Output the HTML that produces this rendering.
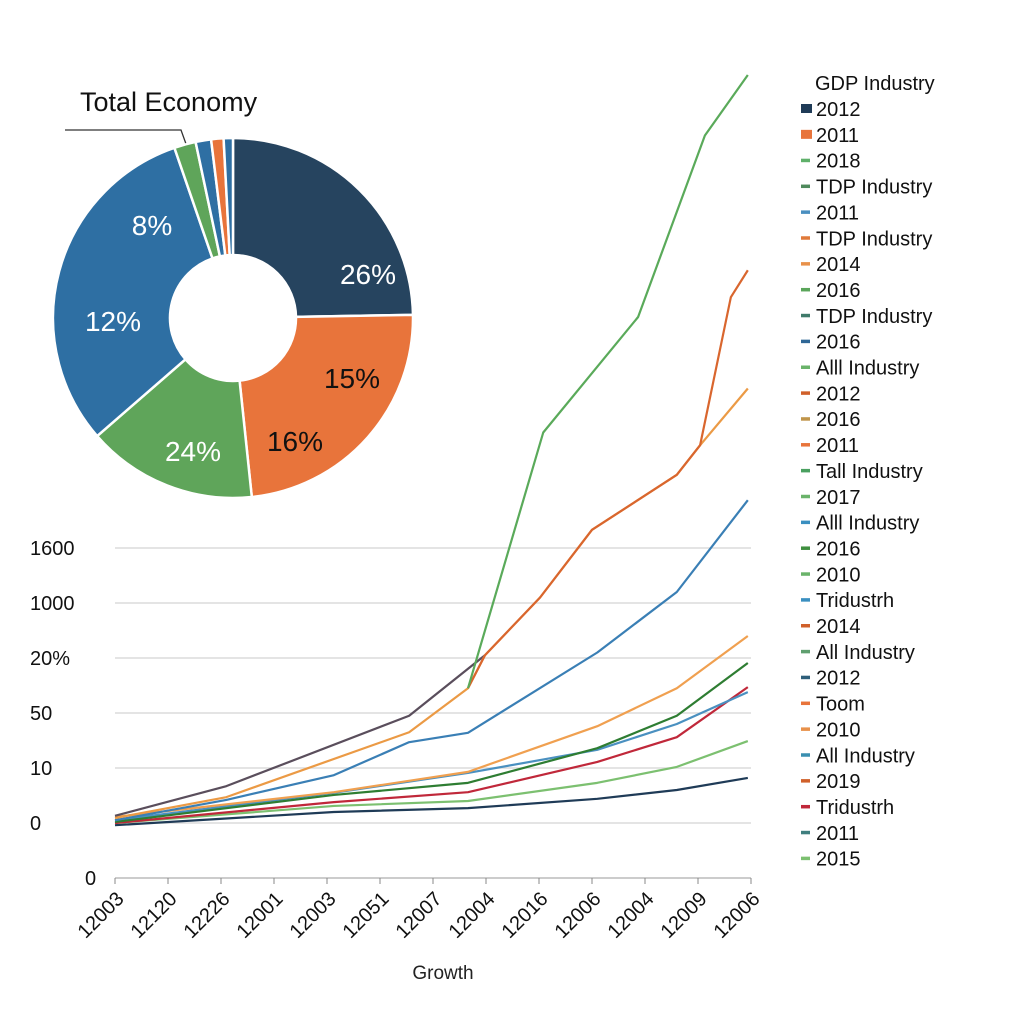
<!DOCTYPE html>
<html><head><meta charset="utf-8"><style>
body{margin:0;background:#fff;font-family:"Liberation Sans",sans-serif}
svg{display:block}
</style></head><body>
<svg id="chart" width="1024" height="1024" viewBox="0 0 1024 1024" xmlns="http://www.w3.org/2000/svg">
<text x="80" y="111" font-size="27" fill="#111">Total Economy</text>
<polyline points="65,130 181,130 190,155" fill="none" stroke="#333" stroke-width="1.3"/>
<g id="pie"></g>
<g id="line"></g>
<g id="legend"></g>
</svg>
<script>
const pieValues=[89,85,55,112,7,5,4,3];
const pieColors=["#26445f","#e8743b","#5fa55a","#2e6fa3","#5fa55a","#2e6fa3","#e8743b","#2e6fa3"];
const pieLabels=[["26%",368,284,"#fff"],["15%",352,388,"#111"],["16%",295,451,"#111"],["24%",193,461,"#fff"],["12%",113,331,"#fff"],["8%",152,235,"#fff"]];

const yTickLabels=["0","0","10","50","20%","1000","1600"];
const xTickLabels=["12003","12120","12226","12001","12003","12051","12007","12004","12016","12006","12004","12009","12006"];

const sNavyX=[0,4.13,6.66,9.1,10.6,11.94];
const sNavyV=[0.96,1.2,1.27,1.44,1.6,1.82];
const sLGreenX=[0,4.13,6.66,9.1,10.6,11.94];
const sLGreenV=[1,1.31,1.4,1.73,2.02,2.49];
const sRedX=[0,4.13,6.66,9.1,10.6,11.94];
const sRedV=[1,1.38,1.56,2.11,2.56,3.47];
const sDGreenX=[0,4.13,6.66,9.1,10.6,11.94];
const sDGreenV=[1.02,1.51,1.73,2.36,2.95,3.91];
const sBlueLowX=[0,4.13,6.66,9.1,10.6,11.94];
const sBlueLowV=[1.05,1.55,1.91,2.33,2.8,3.38];
const sLOrangeX=[0,4.13,6.66,9.1,10.6,11.94];
const sLOrangeV=[1.11,1.56,1.93,2.76,3.45,4.4];
const sBlueMidX=[0,2.1,4.13,5.55,6.66,9.1,10.6,11.94];
const sBlueMidV=[1.05,1.42,1.87,2.47,2.64,4.1,5.2,6.87];
const sTopOrangeX=[0,2.1,5.55,6.66,6.98,8.02,9,10.6,11.04,11.94];
const sTopOrangeV=[1.09,1.47,2.65,3.45,4.05,5.1,6.33,7.33,7.87,8.9];
const sRedOrangeX=[6.66,6.98,8.02,9,10.6,11.04,11.62,11.94];
const sRedOrangeV=[3.45,4.05,5.1,6.33,7.33,7.87,10.56,11.05];
const sGreenBigX=[6.66,8.08,9.87,11.13,11.94];
const sGreenBigV=[3.45,8.1,10.2,13.5,14.6];
const sDarkX=[0,2.1,5.55,6.98];
const sDarkV=[1.13,1.67,2.95,4.05];

const legendLabels=["2012","2011","2018","TDP Industry","2011","TDP Industry","2014","2016","TDP Industry","2016","Alll Industry","2012","2016","2011","Tall Industry","2017","Alll Industry","2016","2010","Tridustrh","2014","All Industry","2012","Toom","2010","All Industry","2019","Tridustrh","2011","2015"];
const legendColors=["#1f3b57","#e8743b","#5fb06a","#4f8a5c","#4a8fc0","#e07a3a","#e8914a","#5aa55a","#3f7a6a","#2f6796","#6ab36a","#d0602a","#c0954a","#e8743b","#4aa060","#6ab36a","#3a8fc0","#3f8f3f","#6ab36a","#3a8fc0","#d0602a","#5f9f6f","#2f5f7a","#e8743b","#e8914a","#3a8fb0","#d0602a","#c0283a","#3f7f7f","#7cc070"];

const NS="http://www.w3.org/2000/svg";
function mk(t,a,p){const e=document.createElementNS(NS,t);for(const k in a)e.setAttribute(k,a[k]);p.appendChild(e);return e;}

const pie=document.getElementById('pie');
const cx=233,cy=318,R=180,r=63;
const tot=pieValues.reduce((a,b)=>a+b,0);
let acc=0;
function pt(ang,rad){const a=ang*Math.PI/180;return [cx+rad*Math.sin(a),cy-rad*Math.cos(a)];}
pieValues.forEach((v,i)=>{
  const a0=acc/tot*360,a1=(acc+v)/tot*360;acc+=v;
  const large=(a1-a0)>180?1:0;
  const p0=pt(a0,R),p1=pt(a1,R),q1=pt(a1,r),q0=pt(a0,r);
  const d=`M${p0[0]},${p0[1]} A${R},${R} 0 ${large} 1 ${p1[0]},${p1[1]} L${q1[0]},${q1[1]} A${r},${r} 0 ${large} 0 ${q0[0]},${q0[1]} Z`;
  const s=mk('path',{d:d,fill:pieColors[i],stroke:'#fff','stroke-width':2.5},pie);
  
  
});
pieLabels.forEach(l=>{
  const t=mk('text',{x:l[1],y:l[2],'font-size':28,fill:l[3],'text-anchor':'middle'},pie);
  t.textContent=l[0];
  
  
});

const g=document.getElementById('line');
const x0=115,dx=53,yBase=878,unit=55;
const X=i=>x0+i*dx, Y=v=>yBase-v*unit;
yTickLabels.forEach((lab,i)=>{
  if(i>0){const gl=mk('line',{x1:115,x2:751,y1:Y(i),y2:Y(i),stroke:'#dcdcdc','stroke-width':1.5},g);
  
  }
  const t=mk('text',{x:i===0?85:30,y:Y(i)+7,'font-size':20,fill:'#111'},g);
  t.textContent=lab;
  
  
});
const ax=mk('line',{x1:115,x2:751,y1:yBase,y2:yBase,stroke:'#bbb','stroke-width':1.5},g);


xTickLabels.forEach((lab,i)=>{
  const tk=mk('line',{x1:X(i),x2:X(i),y1:yBase,y2:yBase+6,stroke:'#888'},g);
  
  
  const t=mk('text',{x:X(i)+10,y:yBase+22,'font-size':20,fill:'#111','text-anchor':'end',transform:`rotate(-45 ${X(i)+10} ${yBase+22})`},g);
  t.textContent=lab;
  
  
});
const xt=mk('text',{x:443,y:979,'font-size':19,fill:'#222','text-anchor':'middle'},g);
xt.textContent='Growth';



const series=[
 [sNavyX,sNavyV,'#1f3b57','navy'],[sLGreenX,sLGreenV,'#7cc070','light-green'],
 [sRedX,sRedV,'#c0283a','red'],[sBlueLowX,sBlueLowV,'#4a90c0','blue-low'],
 [sDGreenX,sDGreenV,'#2e7d32','dark-green'],[sLOrangeX,sLOrangeV,'#f0a050','light-orange'],
 [sBlueMidX,sBlueMidV,'#3a7fb5','blue-mid'],[sDarkX,sDarkV,'#5a4e5c','dark-gray'],
 [sTopOrangeX,sTopOrangeV,'#eb9a45','top-orange'],[sRedOrangeX,sRedOrangeV,'#d9662e','red-orange'],
 [sGreenBigX,sGreenBigV,'#5aaa5a','green-big']];
series.forEach(s=>{
  const pts=s[0].map((xi,k)=>X(xi)+','+Y(s[1][k])).join(' ');
  const p=mk('polyline',{points:pts,fill:'none',stroke:s[2],'stroke-width':2.2,'stroke-linejoin':'round'},g);
  
  
});

const lg=document.getElementById('legend');
const lt=mk('text',{x:815,y:90,'font-size':20,fill:'#111'},lg);
lt.textContent='GDP Industry';


legendLabels.forEach((lab,i)=>{
  const y=109+i*25.85;
  const m=mk('rect',{x:801,y:i<2?y-5:y-2,width:i<2?11:9,height:i<2?9:3.5,fill:legendColors[i]},lg);
  
  
  const t=mk('text',{x:816,y:y+7,'font-size':20,fill:'#111'},lg);
  t.textContent=lab;
  
  
});
</script>
</body></html>
